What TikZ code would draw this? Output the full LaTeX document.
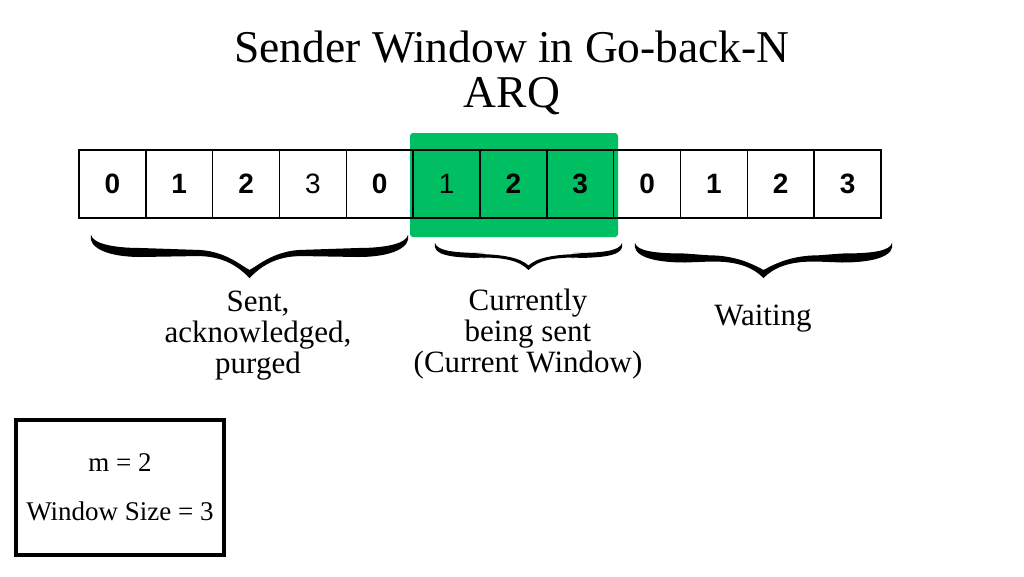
\documentclass[tikz,border=0pt]{standalone}
\usepackage{fontspec}
\setmainfont{Liberation Serif}
\setsansfont{Liberation Sans}
\usepackage{tikz}
\usetikzlibrary{
  calc,
  positioning
}

\definecolor{windowgreen}{RGB}{0,191,99}

\tikzset{
  cell/.style={draw, line width=1.5pt, outer sep=0pt, inner sep=0pt,
    minimum width=66.83pt, minimum height=68pt,
    font=\sffamily\bfseries\fontsize{28}{30}\selectfont},
  thincell/.style={cell, font=\sffamily\fontsize{28}{30}\selectfont},
  label/.style={align=center, inner sep=0pt,
    font=\fontsize{31}{31}\selectfont}
}

% curly brace: left x, right x, end y, arm y, tip y, half thickness
\newcommand{\curlybrace}[6]{%
  \pgfmathsetmacro\bc{(#1+#2)/2}
  \fill (#1, #3)
    .. controls ({#1-3}, {#3+12}) and ({#1+15}, {#4+#6}) .. ({#1+50}, {#4+#6})
    -- ({\bc-55}, {#4+0.8*#6})
    .. controls ({\bc-25}, {#4+0.6*#6}) and ({\bc-10}, {#5-10}) .. (\bc, #5)
    .. controls ({\bc+10}, {#5-10}) and ({\bc+25}, {#4+0.6*#6}) .. ({\bc+55}, {#4+0.8*#6})
    -- ({#2-50}, {#4+#6})
    .. controls ({#2-15}, {#4+#6}) and ({#2+3}, {#3+12}) .. (#2, #3)
    .. controls ({#2-2}, {#3+8}) and ({#2-20}, {#4-#6}) .. ({#2-50}, {#4-#6})
    -- ({\bc+55}, {#4-0.6*#6})
    .. controls ({\bc+25}, {#4-0.6*#6}) and ({\bc+8}, {#5-12}) .. (\bc, {#5-1.8*#6})
    .. controls ({\bc-8}, {#5-12}) and ({\bc-25}, {#4-0.6*#6}) .. ({\bc-55}, {#4-0.6*#6})
    -- ({#1+50}, {#4-#6})
    .. controls ({#1+20}, {#4-#6}) and ({#1+2}, {#3+8}) .. (#1, #3) -- cycle;
}

\begin{document}
\begin{tikzpicture}[x=1pt, y=-1pt]
  \useasboundingbox (0, 0) rectangle (1024, 576);

  % title
  \node[anchor=base, align=center, inner sep=0pt,
        font=\fontsize{45.5}{45}\selectfont] (title) at (512, 107)
        {Sender Window in Go-back-N\\ARQ};

  % current window
  \fill[windowgreen, rounded corners=3pt] (410, 133) rectangle (618, 237);

  % sequence numbers
  \node[cell] (c0) at (112.4, 184) {0};
  \node[cell, right=0pt of c0] (c1) {1};
  \node[cell, right=0pt of c1] (c2) {2};
  \node[thincell, right=0pt of c2] (c3) {3};
  \node[cell, right=0pt of c3] (c4) {0};
  \node[thincell, right=0pt of c4] (c5) {1};
  \node[cell, right=0pt of c5] (c6) {2};
  \node[cell, right=0pt of c6] (c7) {3};
  \node[cell, right=0pt of c7] (c8) {0};
  \node[cell, right=0pt of c8] (c9) {1};
  \node[cell, right=0pt of c9] (c10) {2};
  \node[cell, right=0pt of c10] (c11) {3};

  % braces
  \curlybrace{91}{408}{235}{252.5}{278}{4.5}
  \curlybrace{435}{622}{243}{255.5}{270}{2.5}
  \curlybrace{635}{892}{243}{258}{278}{4.5}

  % labels
  \node[label, anchor=base] (sentlbl) at (258, 373)
        {Sent,\\acknowledged,\\purged};
  \node[label, anchor=base] (currlbl) at (528, 372)
        {Currently\\being sent\\(Current Window)};
  \node[label, anchor=base] (waitlbl) at (763, 325) {Waiting};

  % parameters
  \node[draw, line width=4pt, minimum width=208pt, minimum height=135pt,
        align=center, font=\fontsize{27}{49}\selectfont] (info) at (120, 487.5)
        {m = 2\\Window Size = 3};
\end{tikzpicture}
\end{document}
